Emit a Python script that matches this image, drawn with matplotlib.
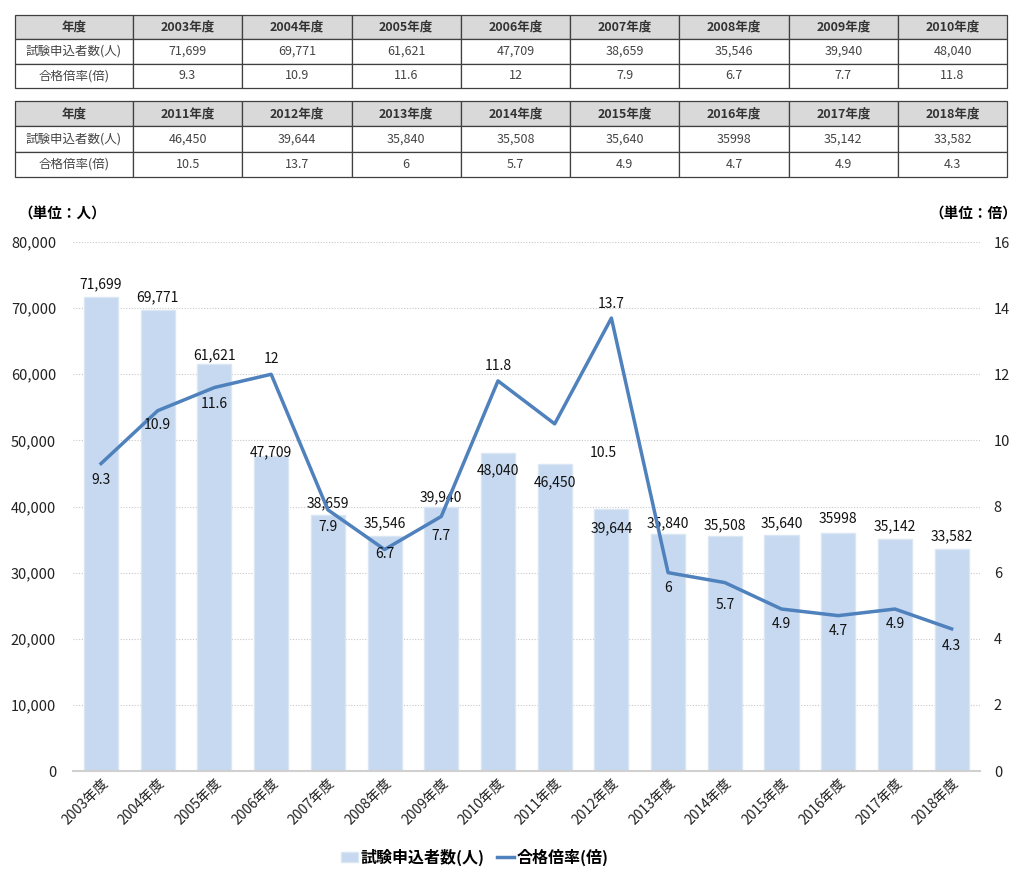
import matplotlib
matplotlib.use("Agg")
import matplotlib.pyplot as plt
from matplotlib.ticker import FuncFormatter, MultipleLocator

plt.rcParams['font.family'] = ['Noto Sans CJK JP', 'DejaVu Sans']

years = ["2003年度", "2004年度", "2005年度", "2006年度", "2007年度", "2008年度", "2009年度", "2010年度",
         "2011年度", "2012年度", "2013年度", "2014年度", "2015年度", "2016年度", "2017年度", "2018年度"]
applicants = [71699, 69771, 61621, 47709, 38659, 35546, 39940, 48040,
              46450, 39644, 35840, 35508, 35640, 35998, 35142, 33582]
applicant_text = ["71,699", "69,771", "61,621", "47,709", "38,659", "35,546", "39,940", "48,040",
                  "46,450", "39,644", "35,840", "35,508", "35,640", "35998", "35,142", "33,582"]
ratio = [9.3, 10.9, 11.6, 12, 7.9, 6.7, 7.7, 11.8, 10.5, 13.7, 6, 5.7, 4.9, 4.7, 4.9, 4.3]
ratio_text = ["9.3", "10.9", "11.6", "12", "7.9", "6.7", "7.7", "11.8", "10.5", "13.7", "6", "5.7", "4.9", "4.7", "4.9", "4.3"]

row_header = ["年度", "試験申込者数(人)", "合格倍率(倍)"]
bar_name = "試験申込者数(人)"
line_name = "合格倍率(倍)"

# label offsets (points), style only
bar_off = [(0, 9), (0, 9), (0, 6), (0, 2), (0, 9), (0, 9), (0, 7), (0, -12),
           (0, -13), (0, -14), (0, 8), (0, 8), (0, 9), (0, 10), (0, 9), (0, 9)]
line_off = [(0, -12), (0, -10), (0, -12), (0, 11), (0, -12), (0, -3), (0, -14), (0, 11),
            (35, -21), (0, 10), (0, -11), (0, -16), (0, -11), (0, -11), (0, -11), (0, -12)]

fig = plt.figure(figsize=(10.24, 8.83), dpi=100)

# ---- tables ----
col_w = [118 / 992] + [109.25 / 992] * 8
for t, (bottom, height) in enumerate([(0.9003, 0.0827), (0.7995, 0.0861)]):
    tax = fig.add_axes([0.0146, bottom, 0.969, height])
    tax.axis('off')
    sl = slice(t * 8, t * 8 + 8)
    cells = [[row_header[0]] + years[sl],
             [row_header[1]] + applicant_text[sl],
             [row_header[2]] + ratio_text[sl]]
    tb = tax.table(cellText=cells, colWidths=col_w, bbox=[0, 0, 1, 1], cellLoc='center')
    tb.auto_set_font_size(False)
    for (r, c), cell in tb.get_celld().items():
        cell.set_edgecolor('#404040')
        cell.set_linewidth(0.9)
        cell.get_text().set_fontsize(9)
        cell.get_text().set_color('#444444')
        if r == 0:
            cell.set_facecolor('#d9d9d9')
            cell.get_text().set_fontweight('bold')
            cell.get_text().set_color('#333333')
        else:
            cell.set_facecolor('white')

# ---- chart ----
ax = fig.add_axes([0.071, 0.1268, 0.886, 0.5991])
x = list(range(len(years)))
bars = ax.bar(x, applicants, width=0.6, color='#c6d9f0', edgecolor='#dbe6f4', linewidth=1.0,
              label=bar_name, zorder=2)
ax.set_xlim(-0.5, len(years) - 0.5)
ax.set_ylim(0, 80000)
ax.yaxis.set_major_locator(MultipleLocator(10000))
ax.yaxis.set_major_formatter(FuncFormatter(lambda v, p: f"{int(v):,}"))
ax.grid(axis='y', linestyle=(0, (1, 1.5)), color='#c8c8c8', linewidth=0.8, zorder=0)
ax.set_axisbelow(True)
for s in ['top', 'right', 'left']:
    ax.spines[s].set_visible(False)
ax.spines['bottom'].set_color('#d0d0d0')
ax.spines['bottom'].set_linewidth(1.5)
ax.tick_params(axis='both', length=0, labelsize=10.5, colors='#222222')
ax.tick_params(axis='y', pad=12)
ax.set_xticks(x)
ax.set_xticklabels(years, rotation=45, ha='right', rotation_mode='anchor', fontsize=10)

for i, v in enumerate(applicants):
    ax.annotate(applicant_text[i], (i, v), xytext=bar_off[i], textcoords='offset points',
                ha='center', va='center', fontsize=10, color='#111111', zorder=5)

ax2 = ax.twinx()
ax2.set_position(ax.get_position())
line, = ax2.plot(x, ratio, color='#4f81bd', linewidth=2.5, label=line_name, zorder=4)
ax2.set_ylim(0, 16)
ax2.yaxis.set_major_locator(MultipleLocator(2))
for s in ['top', 'right', 'left', 'bottom']:
    ax2.spines[s].set_visible(False)
ax2.tick_params(axis='y', length=0, labelsize=10.5, colors='#222222', pad=10)
for i, v in enumerate(ratio):
    ax2.annotate(ratio_text[i], (i, v), xytext=line_off[i], textcoords='offset points',
                 ha='center', va='center', fontsize=10, color='#111111', zorder=5)

fig.text(0.018, 0.758, "（単位：人）", fontsize=10.5, fontweight='bold', ha='left', va='center')
fig.text(0.993, 0.758, "（単位：倍）", fontsize=10.5, fontweight='bold', ha='right', va='center')

fig.legend([bars, line], [bar_name, line_name], loc='center', bbox_to_anchor=(0.4634, 0.0294),
           ncol=2, frameon=False, prop={'size': 11.5, 'weight': 'bold'},
           handlelength=1.1, handleheight=0.6, handletextpad=0.15, columnspacing=0.75)

fig.savefig("out.png", dpi=100)
